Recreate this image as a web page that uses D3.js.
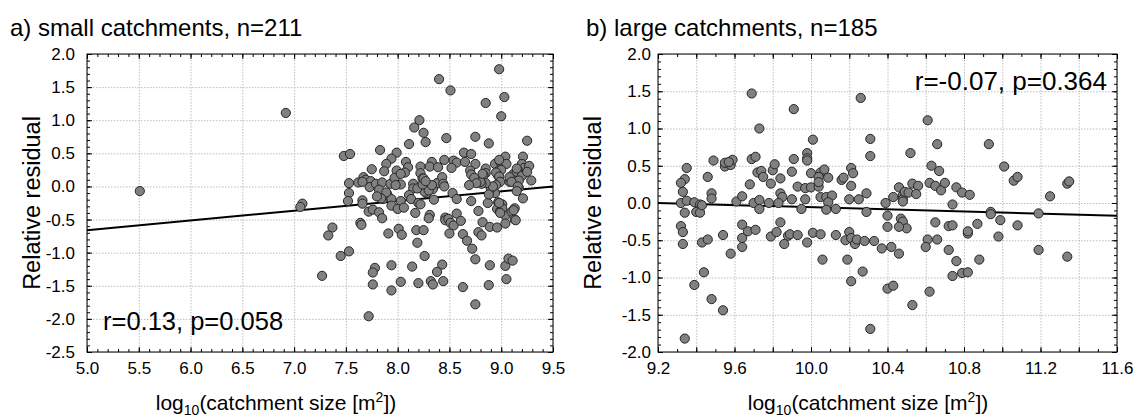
<!DOCTYPE html>
<html>
<head>
<meta charset="utf-8">
<script src="https://cdn.jsdelivr.net/npm/d3@7"></script>
<style>
  html, body { margin: 0; padding: 0; background: #fff; }
  svg { display: block; }
  text { font-family: "Liberation Sans", Arial, sans-serif; fill: #000; }
</style>
</head>
<body>
<svg id="chart" width="1136" height="419"></svg>
<script>
// ---------- DATA ----------
const smallX = [5.51,6.92,7.08,7.06,8.98,8.40,8.51,8.85,9.03,9.00,8.21,8.16,8.25,8.27,8.11,8.47,8.75,8.88,9.25,7.48,
  7.54,7.83,7.99,7.94,7.89,7.87,7.75,8.08,8.10,7.99,8.22,8.22,8.33,8.31,8.39,8.45,8.54,8.57,8.52,8.64,
  8.71,8.65,8.75,8.70,8.71,8.85,8.85,8.83,8.94,8.99,9.04,9.05,8.97,8.97,9.21,9.20,9.22,9.27,9.16,9.12,
  9.15,9.20,9.25,9.08,9.17,9.17,9.29,7.67,7.69,7.74,7.73,7.53,7.62,7.66,7.79,7.85,7.82,7.93,7.97,8.03,
  8.15,8.15,8.24,8.26,8.36,8.38,8.43,8.44,8.29,8.28,8.34,7.53,7.52,7.66,7.66,7.86,7.90,7.94,7.94,8.03,
  8.00,8.06,8.11,8.13,8.20,8.22,8.17,8.35,8.53,8.57,8.71,8.87,8.92,8.94,8.97,9.01,8.96,8.99,9.21,8.78,
  9.04,9.10,9.13,9.13,7.72,7.76,7.82,7.85,8.31,8.30,8.46,8.46,8.49,8.51,8.54,8.57,8.61,8.82,8.89,8.96,
  9.04,7.64,7.65,7.37,7.33,7.91,8.01,8.04,8.18,8.25,8.19,8.26,8.50,8.63,8.67,8.72,8.75,8.78,8.81,7.45,
  7.53,7.27,7.72,7.78,7.76,7.76,7.94,7.94,8.03,8.14,8.20,8.32,8.34,8.43,8.38,8.44,8.63,8.75,8.89,8.88,
  9.04,9.05,9.07,9.11,9.14,9.12,9.01,8.99,8.98,9.15,9.08,9.10,9.16,9.15,8.98,9.00,8.95,8.98,8.99,8.95,
  8.90,8.88,8.92,8.85,8.81,8.80,8.82,8.74,8.76,8.69,8.45,8.26,8.30,8.33,8.19,8.24,8.25,8.27,8.07,8.03,
  7.98,7.89,7.84,7.80];
const smallY = [-0.07,1.11,-0.26,-0.31,1.77,1.62,1.45,1.26,1.35,1.06,1.00,0.89,0.81,0.67,0.64,0.73,0.75,0.65,0.69,0.46,
  0.49,0.55,0.51,0.42,0.34,0.23,0.26,0.37,0.29,0.24,0.30,0.20,0.37,0.30,0.29,0.40,0.39,0.36,0.28,0.51,
  0.49,0.37,0.34,0.24,0.18,0.27,0.20,0.17,0.34,0.37,0.45,0.34,0.23,0.16,0.45,0.34,0.28,0.31,0.25,0.19,
  0.22,0.16,0.22,0.07,0.09,-0.02,0.09,0.14,0.10,0.08,-0.01,0.05,0.06,0.07,0.04,0.06,-0.05,0.04,0.13,0.03,
  0.04,-0.03,0.12,0.03,0.02,0.05,0.14,0.04,-0.07,-0.10,-0.04,-0.10,-0.22,-0.21,-0.26,-0.19,-0.12,-0.19,-0.29,-0.22,
  -0.34,-0.32,-0.13,-0.19,-0.25,-0.27,-0.40,-0.20,-0.10,-0.19,-0.22,-0.25,-0.08,-0.10,-0.24,-0.27,-0.34,-0.37,-0.18,-0.37,
  -0.44,-0.38,-0.33,-0.50,-0.38,-0.35,-0.39,-0.48,-0.43,-0.48,-0.47,-0.51,-0.49,-0.55,-0.59,-0.41,-0.52,-0.54,-0.61,-0.62,
  -0.56,-0.55,-0.58,-0.62,-0.74,-0.71,-0.64,-0.73,-0.66,-0.66,-0.85,-1.05,-0.71,-0.72,-0.82,-0.94,-1.10,-0.69,-0.74,-1.05,
  -0.98,-1.35,-1.96,-1.23,-1.30,-1.48,-1.19,-1.57,-1.44,-1.21,-1.46,-1.43,-1.48,-1.18,-1.29,-1.43,-1.52,-1.78,-1.19,-1.49,
  -1.20,-1.40,-1.09,-1.12,-0.51,-0.36,-0.33,-0.40,-0.25,0.27,0.14,0.07,0.00,-0.07,0.40,0.25,0.21,0.15,0.07,0.02,
  -0.03,-0.12,0.00,0.05,0.04,0.07,0.19,0.13,0.05,0.02,0.00,-0.08,-0.06,0.02,-0.03,0.03,0.12,0.08,0.21,0.19,
  0.02,-0.09,-0.18,-0.15];

const largeX = [9.69,9.91,9.73,10.01,9.69,9.71,9.49,9.91,9.98,9.98,9.98,9.35,9.34,9.32,9.46,9.33,9.32,9.35,9.39,9.42,
  9.48,9.48,9.61,9.64,9.68,9.72,9.74,9.75,9.80,9.81,9.79,9.84,9.84,9.85,9.83,9.90,9.90,9.93,9.97,10.00,
  10.00,9.97,9.95,10.05,10.07,10.04,10.04,10.09,10.05,10.08,10.11,10.09,10.08,10.13,10.16,10.17,10.21,10.22,10.21,10.20,
  10.25,10.26,10.31,10.31,10.29,10.29,9.70,9.73,9.73,9.78,9.34,9.40,9.42,9.43,9.55,9.55,9.58,9.59,9.57,10.04,
  10.39,10.40,10.43,10.46,10.48,10.48,10.48,10.49,10.51,10.53,10.56,10.55,10.52,10.63,10.67,10.62,10.65,10.68,10.70,10.74,
  10.76,10.79,10.83,10.94,10.94,10.99,11.01,9.32,9.33,9.33,9.43,9.46,9.54,9.64,9.64,9.64,9.67,9.71,9.79,9.82,
  9.84,9.88,9.89,9.93,9.86,9.98,10.01,10.05,10.13,10.18,10.20,10.21,10.23,10.24,10.28,10.33,10.40,10.42,10.37,10.47,
  10.48,10.50,10.46,10.61,10.66,10.65,10.72,10.82,10.82,10.87,10.98,9.34,9.39,9.44,9.48,9.54,9.58,10.06,10.19,10.21,
  10.27,10.31,10.40,10.43,10.53,10.62,10.46,10.60,10.72,10.74,10.76,10.79,10.82,10.88,11.08,11.19,11.19,11.34,10.61,10.66,
  10.93,11.06,11.08,11.25,11.34,11.35,10.74];
const largeY = [1.47,1.26,1.00,0.85,0.59,0.62,0.57,0.59,0.67,0.60,0.57,0.47,0.32,0.27,0.35,0.15,0.00,0.03,0.01,-0.02,
  0.13,0.06,0.02,0.09,0.25,0.41,0.43,0.35,0.44,0.52,0.26,0.33,0.13,0.08,0.00,0.05,0.42,0.22,0.20,0.21,
  0.40,0.05,-0.08,0.41,0.45,0.35,0.22,0.34,0.08,0.08,0.10,0.01,-0.09,-0.08,0.31,0.34,0.47,0.40,0.23,0.05,
  0.05,1.41,0.86,0.63,0.13,-0.12,0.00,0.04,-0.08,0.00,-0.13,-0.12,-0.13,-0.03,0.49,0.54,0.51,0.58,0.55,0.28,
  0.00,-0.17,0.08,0.21,0.10,0.05,0.02,0.15,0.14,0.26,0.23,0.12,0.67,0.50,0.43,0.27,0.23,0.17,0.27,-0.02,
  0.21,0.14,0.11,-0.12,-0.15,-0.23,0.49,-0.31,-0.39,-0.55,-0.53,-0.49,-0.43,-0.29,-0.47,-0.59,-0.38,-0.36,-0.45,-0.39,
  -0.26,-0.44,-0.42,-0.43,-0.55,-0.53,-0.40,-0.42,-0.43,-0.50,-0.39,-0.47,-0.55,-0.49,-0.51,-0.51,-0.32,-0.59,-0.61,-0.21,
  -0.25,-0.34,-0.32,-0.49,-0.49,-0.26,-0.31,-0.41,-0.38,-0.28,-0.45,-1.82,-1.10,-0.93,-1.29,-1.44,-0.68,-0.76,-0.76,-1.05,
  -0.92,-1.69,-1.15,-1.11,-1.37,-1.19,-0.68,-0.59,-0.63,-0.98,-0.78,-0.94,-0.93,-0.76,-0.30,-0.14,-0.63,-0.72,1.11,0.79,
  0.79,0.30,0.35,0.09,0.26,0.29,-0.30];

// fitted regression lines (end points in data units)
const fitSmallX = [5.0, 9.5];
const fitSmallY = [-0.66, 0.0];
const fitLargeX = [9.2, 11.6];
const fitLargeY = [0.0, -0.17];

// axis ticks
const xTicksSmall = [5.0,5.5,6.0,6.5,7.0,7.5,8.0,8.5,9.0,9.5];
const yTicksSmall = [-2.5,-2.0,-1.5,-1.0,-0.5,0.0,0.5,1.0,1.5,2.0];
const xTicksLarge = [9.2,9.6,10.0,10.4,10.8,11.2,11.6];
const xGridLarge  = [9.2,9.4,9.6,9.8,10.0,10.2,10.4,10.6,10.8,11.0,11.2,11.4,11.6];
const yTicksLarge = [-2.0,-1.5,-1.0,-0.5,0.0,0.5,1.0,1.5,2.0];

const titles = ["a) small catchments, n=211", "b) large catchments, n=185"];
const stats  = ["r=0.13, p=0.058", "r=-0.07, p=0.364"];

// ---------- DRAW ----------
const svg = d3.select("#chart");
const fmt = d => d.toFixed(1);

function range(a, b, step) {
  const out = [];
  const n = Math.round((b - a) / step);
  for (let i = 0; i <= n; i++) out.push(+(a + i * step).toFixed(4));
  return out;
}

const panels = [
  { xs: smallX, ys: smallY, fx: fitSmallX, fy: fitSmallY,
    xDom: [5.0, 9.5], yDom: [-2.5, 2.0],
    xTicks: xTicksSmall, xGrid: xTicksSmall, yTicks: yTicksSmall,
    xMinor: 0.1, yMinor: 0.1, yPad: 12,
    L: 87, R: 553, T: 54, B: 352, titleX: 10, ylabX: 40, xlabC: 276,
    title: titles[0], stat: stats[0], statPos: "bl" },
  { xs: largeX, ys: largeY, fx: fitLargeX, fy: fitLargeY,
    xDom: [9.2, 11.6], yDom: [-2.0, 2.0],
    xTicks: xTicksLarge, xGrid: xGridLarge, yTicks: yTicksLarge,
    xMinor: 0.1, yMinor: 0.1, yPad: 7,
    L: 658, R: 1117, T: 54, B: 352, titleX: 586, ylabX: 601, xlabC: 868,
    title: titles[1], stat: stats[1], statPos: "tr" }
];

panels.forEach(p => {
  const x = d3.scaleLinear().domain(p.xDom).range([p.L, p.R]);
  const y = d3.scaleLinear().domain(p.yDom).range([p.B, p.T]);
  const W = p.R - p.L, H = p.B - p.T;
  const g = svg.append("g");

  // grid
  const grid = g.append("g").attr("class", "grid");
  grid.append("g").attr("transform", `translate(0,${p.T})`)
    .call(d3.axisBottom(x).tickValues(p.xGrid).tickSize(H).tickFormat(""))
    .call(s => s.select(".domain").remove());
  grid.append("g").attr("transform", `translate(${p.L},0)`)
    .call(d3.axisRight(y).tickValues(p.yTicks).tickSize(W).tickFormat(""))
    .call(s => s.select(".domain").remove());
  grid.selectAll("line").attr("stroke", "#bcbcbc").attr("stroke-width", 1)
    .attr("stroke-dasharray", "1.5,1.5");

  // minor + major ticks on all four sides (inward)
  const xMin = range(p.xDom[0], p.xDom[1], p.xMinor);
  const yMin = range(p.yDom[0], p.yDom[1], p.yMinor);
  const tk = g.append("g");
  tk.append("g").attr("transform", `translate(0,${p.B})`)
    .call(d3.axisTop(x).tickValues(xMin).tickSize(3).tickFormat(""));
  tk.append("g").attr("transform", `translate(0,${p.T})`)
    .call(d3.axisBottom(x).tickValues(xMin).tickSize(3).tickFormat(""));
  tk.append("g").attr("transform", `translate(${p.L},0)`)
    .call(d3.axisRight(y).tickValues(yMin).tickSize(3).tickFormat(""));
  tk.append("g").attr("transform", `translate(${p.R},0)`)
    .call(d3.axisLeft(y).tickValues(yMin).tickSize(3).tickFormat(""));
  tk.append("g").attr("transform", `translate(0,${p.B})`)
    .call(d3.axisTop(x).tickValues(p.xGrid).tickSize(5).tickFormat(""));
  tk.append("g").attr("transform", `translate(0,${p.T})`)
    .call(d3.axisBottom(x).tickValues(p.xGrid).tickSize(5).tickFormat(""));
  tk.append("g").attr("transform", `translate(${p.L},0)`)
    .call(d3.axisRight(y).tickValues(p.yTicks).tickSize(5).tickFormat(""));
  tk.append("g").attr("transform", `translate(${p.R},0)`)
    .call(d3.axisLeft(y).tickValues(p.yTicks).tickSize(5).tickFormat(""));
  tk.selectAll(".domain").remove();
  tk.selectAll("line").attr("stroke", "#000").attr("stroke-width", 1);

  // tick labels
  const xl = g.append("g").attr("transform", `translate(0,${p.B})`)
    .call(d3.axisBottom(x).tickValues(p.xTicks).tickSize(0).tickPadding(10).tickFormat(fmt));
  xl.select(".domain").remove();
  xl.selectAll("text").attr("font-size", 17).attr("font-family", "Liberation Sans, Arial, sans-serif");
  const yl = g.append("g").attr("transform", `translate(${p.L},0)`)
    .call(d3.axisLeft(y).tickValues(p.yTicks).tickSize(0).tickPadding(p.yPad).tickFormat(fmt));
  yl.select(".domain").remove();
  yl.selectAll("text").attr("font-size", 17).attr("font-family", "Liberation Sans, Arial, sans-serif");

  // regression line
  g.append("line")
    .attr("x1", x(p.fx[0])).attr("y1", y(p.fy[0]))
    .attr("x2", x(p.fx[1])).attr("y2", y(p.fy[1]))
    .attr("stroke", "#000").attr("stroke-width", 2);

  // points
  g.append("g").selectAll("circle")
    .data(p.xs.map((v, i) => [v, p.ys[i]]))
    .join("circle")
    .attr("cx", d => x(d[0])).attr("cy", d => y(d[1]))
    .attr("r", 4.6)
    .attr("fill", "#808080").attr("stroke", "#262626").attr("stroke-width", 1);

  // frame
  g.append("rect").attr("x", p.L).attr("y", p.T).attr("width", W).attr("height", H)
    .attr("fill", "none").attr("stroke", "#000").attr("stroke-width", 1);

  // title
  g.append("text").attr("x", p.titleX).attr("y", 36).attr("font-size", 24).text(p.title);

  // y label
  g.append("text")
    .attr("transform", `translate(${p.ylabX},${(p.T + p.B) / 2}) rotate(-90)`)
    .attr("text-anchor", "middle").attr("font-size", 23.5).text("Relative residual");

  // x label with sub/superscript
  const xt = g.append("text").attr("x", p.xlabC).attr("y", 410)
    .attr("text-anchor", "middle").attr("font-size", 21);
  xt.append("tspan").text("log");
  xt.append("tspan").attr("font-size", 14).attr("dy", 5).text("10");
  xt.append("tspan").attr("dy", -5).text("(catchment size [m");
  xt.append("tspan").attr("font-size", 14).attr("dy", -8).text("2");
  xt.append("tspan").attr("dy", 8).text("])");

  // statistics text
  if (p.statPos === "bl") {
    g.append("text").attr("x", p.L + 16).attr("y", p.B - 22).attr("font-size", 25.5).text(p.stat);
  } else {
    g.append("text").attr("x", p.R - 10).attr("y", p.T + 36).attr("text-anchor", "end")
      .attr("font-size", 26).text(p.stat);
  }
});
</script>
</body>
</html>
